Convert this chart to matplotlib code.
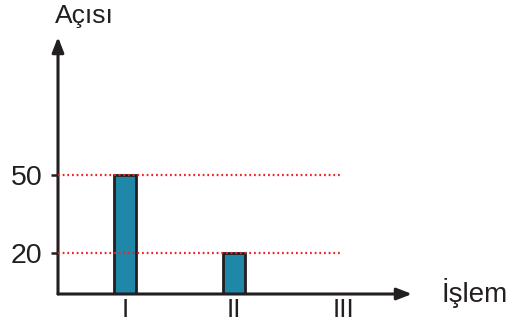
import matplotlib
matplotlib.use("Agg")
import matplotlib.pyplot as plt

# Data
categories = ["I", "II", "III"]
values = [50, 20, 0]
ref_levels = [50, 20]
y_label = "Açısı"
x_label = "İşlem"

W, H = 509, 325
fig = plt.figure(figsize=(W / 100, H / 100), dpi=100)
plt.rcParams["font.family"] = ["Liberation Sans", "DejaVu Sans"]

# axes box in pixel coordinates: left 58, right 412, top 37, bottom 294
left, right, top, bottom = 58, 412, 37, 294
ax = fig.add_axes([left / W, 1 - bottom / H, (right - left) / W, (bottom - top) / H])
ax.patch.set_alpha(0)

positions = [i + 1 for i in range(len(categories))]
ax.set_xlim(0.385, 3.63)
ax.set_ylim(4.2, 103)

ink = "#231f20"
ax.bar(positions, values, width=0.2, color="#1f87a8", edgecolor=ink,
       linewidth=2, zorder=3)

for lvl in ref_levels:
    ax.plot([0.385, 2.97], [lvl, lvl], linestyle=(0, (0.8, 1.3)), color="#e8262b",
            linewidth=1.6, zorder=4)

for s in ax.spines.values():
    s.set_visible(False)

ax.set_yticks(ref_levels)
ax.set_yticklabels([str(v) for v in ref_levels], fontsize=20.5, color=ink)
ax.tick_params(axis="y", length=5, width=1.8, color=ink, pad=6)
ax.set_xticks(positions)
ax.set_xticklabels(categories, fontsize=19, color=ink)
ax.tick_params(axis="x", length=0, pad=3)

# arrowed axes
arrow = dict(arrowstyle="-|>,head_length=0.9,head_width=0.35", color=ink,
             lw=2.2, shrinkA=0, shrinkB=0)
ax.annotate("", xy=(0, 1), xytext=(0, 0), xycoords="axes fraction",
            arrowprops=arrow, annotation_clip=False)
ax.annotate("", xy=(1, 0), xytext=(0, 0), xycoords="axes fraction",
            arrowprops=arrow, annotation_clip=False)

fig.text(55 / W, 1 - 23 / H, y_label, fontsize=19, color=ink, ha="left", va="baseline")
fig.text(442 / W, 1 - 302 / H, x_label, fontsize=20, color=ink, ha="left", va="baseline")

fig.savefig("out.png", dpi=100)
